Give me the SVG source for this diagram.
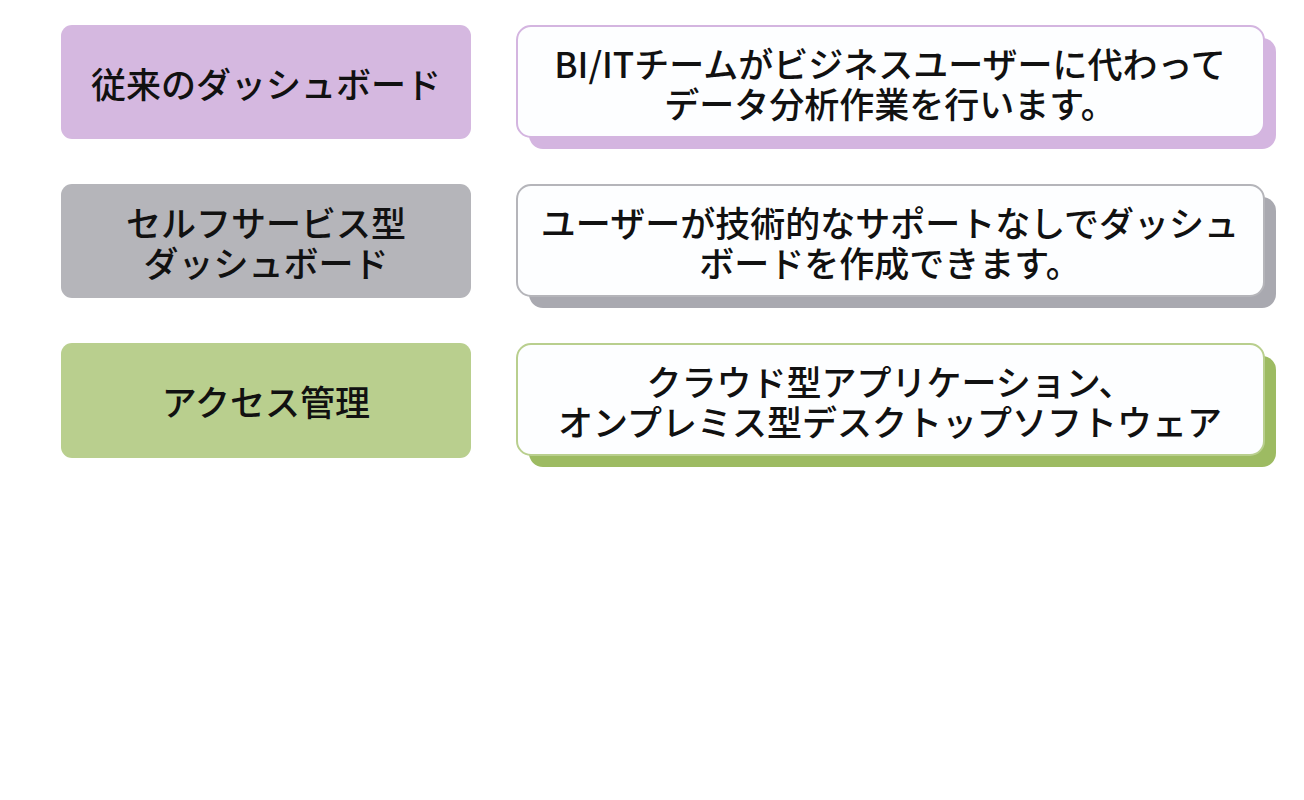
<svg xmlns="http://www.w3.org/2000/svg" width="1304" height="800" viewBox="0 0 1304 800">
<style>
text{font-family:"Noto Sans CJK JP","Noto Sans",sans-serif;font-size:35px;font-weight:500;fill:#111;text-anchor:middle;dominant-baseline:central}
.card{fill:#FDFEFF;stroke-width:2}
</style>
<rect width="1304" height="800" fill="#FFFFFF"/>
<g id="row1-label"><rect x="61" y="25" width="410" height="114" rx="11" fill="#D5B8E0"/><text x="266" y="82">従来のダッシュボード</text></g>
<g id="row1-desc"><rect x="529" y="38" width="747" height="111" rx="14" fill="#D4B5E0"/><rect class="card" x="517" y="26" width="747" height="111" rx="14" stroke="#D4B5E0"/><text x="890" y="62"><tspan x="890" y="62">BI/ITチームがビジネスユーザーに代わって</tspan><tspan x="890" y="102">データ分析作業を行います。</tspan></text></g>
<g id="row2-label"><rect x="61" y="184" width="410" height="114" rx="11" fill="#B5B5BA"/><text x="266" y="221"><tspan x="266" y="221">セルフサービス型</tspan><tspan x="266" y="261">ダッシュボード</tspan></text></g>
<g id="row2-desc"><rect x="529" y="197" width="747" height="111" rx="14" fill="#A9A9B0"/><rect class="card" x="517" y="185" width="747" height="111" rx="14" stroke="#B5B5BA"/><text x="890" y="221"><tspan x="890" y="221">ユーザーが技術的なサポートなしでダッシュ</tspan><tspan x="890" y="261">ボードを作成できます。</tspan></text></g>
<g id="row3-label"><rect x="61" y="343" width="410" height="115" rx="11" fill="#B9CF8E"/><text x="266" y="400">アクセス管理</text></g>
<g id="row3-desc"><rect x="529" y="356" width="747" height="111" rx="14" fill="#9DBB62"/><rect class="card" x="517" y="344" width="747" height="111" rx="14" stroke="#B9CF8E"/><text x="890" y="380"><tspan x="890" y="380">クラウド型アプリケーション、</tspan><tspan x="890" y="420">オンプレミス型デスクトップソフトウェア</tspan></text></g>
<g id="connectors"/>
</svg>
